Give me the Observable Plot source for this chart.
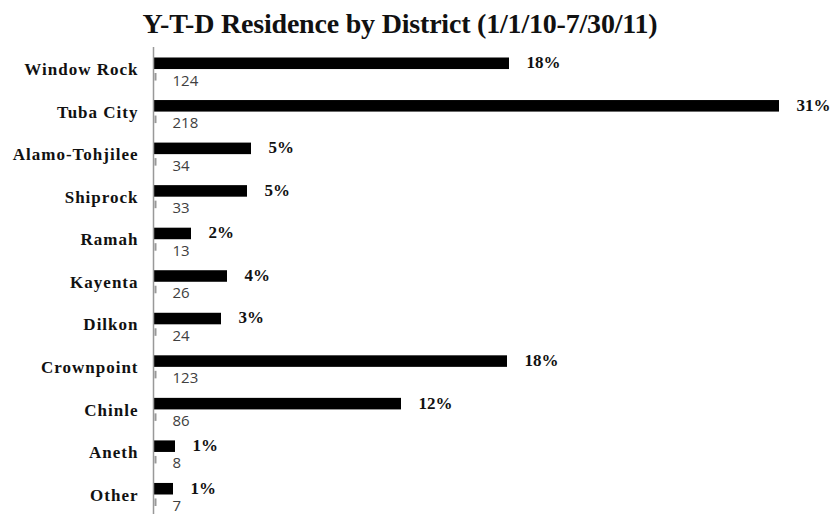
<!DOCTYPE html>
<html><head><meta charset="utf-8">
<script src="https://cdn.jsdelivr.net/npm/d3@7"></script>
<script src="https://cdn.jsdelivr.net/npm/@observablehq/plot@0.6"></script>
<style>
body{margin:0;background:#fff;}
#title{height:45px;width:800px;text-align:center;font-family:"Liberation Serif",serif;font-weight:bold;font-size:28px;line-height:48px;color:#111;letter-spacing:-0.2px;overflow:hidden;}
#chart svg{display:block;}
</style></head>
<body>
<div id="title">Y-T-D Residence by District (1/1/10-7/30/11)</div>
<div id="chart"></div>
<script>
const districts = ["Window Rock","Tuba City","Alamo-Tohjilee","Shiprock","Ramah","Kayenta","Dilkon","Crownpoint","Chinle","Aneth","Other"];
const percents = [17.8, 31.3, 4.9, 4.7, 1.9, 3.7, 3.4, 17.7, 12.4, 1.1, 1.0];
const counts = [124, 218, 34, 33, 13, 26, 24, 123, 86, 8, 7];

const data = districts.map((d,i)=>({district:d, pct:percents[i], count:counts[i]}));

const chart = Plot.plot({
  width: 832,
  height: 471,
  marginLeft: 153,
  marginRight: 1,
  marginTop: 0,
  marginBottom: 3,
  x: {domain:[0, 33.9], axis: null},
  y: {domain: districts, padding: 0, round: false, label: null},
  style: {background:"#fff"},
  marks: [
    Plot.axisY({tickSize:0, tickPadding:15, fontFamily:"Liberation Serif, serif", fontWeight:"bold", fontSize:17, fill:"#111", dy:3, label:null,
      tickFormat: d=>d}),
    Plot.barX(data, {x:"pct", y:"district", fill:"#000", insetTop:12.5, insetBottom:18.5}),
    Plot.tickX(data, {x:()=>0, y:"district", stroke:"#999", strokeWidth:2, dx:2, insetTop:28, insetBottom:7}),
    Plot.text(data, {x:()=>0, y:"district", text:d=>String(d.count), textAnchor:"start", dx:19, dy:14, fontFamily:"Open Sans, sans-serif", fontSize:15, fill:"#404040"}),
    Plot.text(data, {x:"pct", y:"district", text:d=>Math.round(d.pct)+"%", textAnchor:"start", dx:17, dy:-4, fontFamily:"Liberation Serif, serif", fontWeight:"bold", fontSize:17, fill:"#111"}),
    Plot.ruleX([0], {stroke:"#999", strokeWidth:1.5, insetTop:2, insetBottom:-1})
  ]
});
document.getElementById("chart").appendChild(chart);
chart.querySelectorAll("[aria-label='y-axis tick label'] text").forEach(t=>t.setAttribute("letter-spacing","1"));
</script>
</body></html>
